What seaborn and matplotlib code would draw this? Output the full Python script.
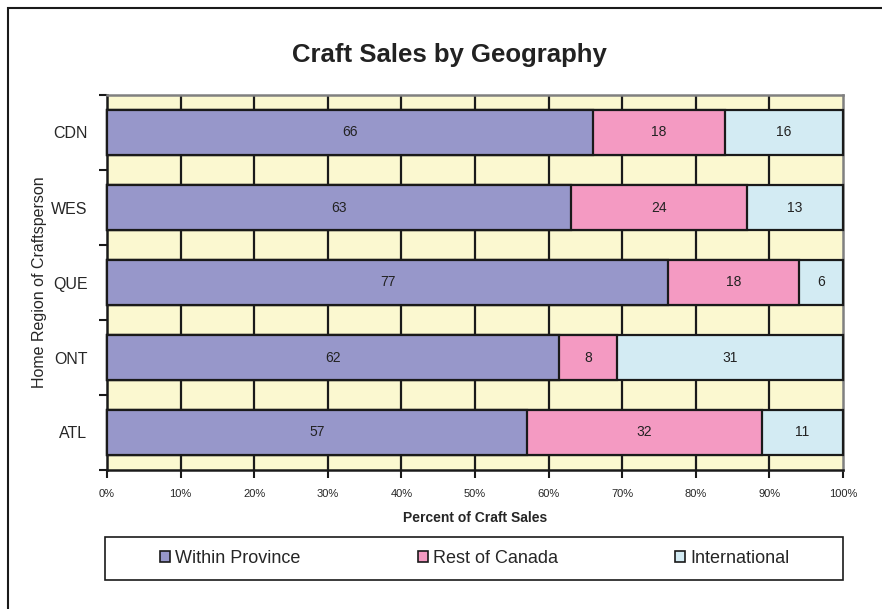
import numpy as np
import pandas as pd
import matplotlib.pyplot as plt
import seaborn as sns
from matplotlib.patches import Rectangle, Patch

regions = ['CDN', 'WES', 'QUE', 'ONT', 'ATL']
within_province = [66, 63, 77, 62, 57]
rest_of_canada = [18, 24, 18, 8, 32]
international = [16, 13, 6, 31, 11]

series_names = ['Within Province', 'Rest of Canada', 'International']
colors = ['#9797CA', '#F49AC2', '#D3EBF3']

raw = np.array([within_province, rest_of_canada, international], dtype=float)
pct = raw / raw.sum(axis=0) * 100
cum = np.cumsum(pct, axis=0)

sns.set_theme(style='white')
plt.rcParams['font.family'] = ['Liberation Sans', 'DejaVu Sans']

W, H = 882, 609
fig = plt.figure(figsize=(W / 100, H / 100), dpi=100)
ax = fig.add_axes([107 / W, 1 - 470 / H, 736 / W, 375 / H])
ax.set_facecolor('#FBF8D0')

# vertical grid behind bars
for x in range(10, 100, 10):
    ax.axvline(x, color='#1a1a1a', lw=1.6, zorder=0)

# draw stacked bars back to front (cumulative totals)
for i in range(2, -1, -1):
    df = pd.DataFrame({'region': regions, 'value': cum[i]})
    sns.barplot(data=df, y='region', x='value', orient='h', color=colors[i],
                saturation=1, width=0.61, edgecolor='#1a1a1a', linewidth=1.6,
                ax=ax)
for p in ax.patches:
    p.set_zorder(3)
    p.set_clip_on(False)

# value labels
for i in range(3):
    starts = cum[i] - pct[i]
    for j, r in enumerate(regions):
        ax.text(starts[j] + pct[i][j] / 2, j, f'{int(raw[i][j])}',
                ha='center', va='center', fontsize=10, color='#222222', zorder=4)

ax.set_xlim(0, 100)
ax.set_ylim(4.5, -0.5)
ax.set_xticks(np.arange(0, 101, 10))
ax.set_xticklabels([f'{v}%' for v in range(0, 101, 10)], fontsize=8)
ax.set_yticks(range(len(regions)))
ax.set_yticklabels(regions, fontsize=11.5)
ax.set_yticks(np.arange(-0.5, 5, 1), minor=True)
ax.tick_params(axis='y', which='major', length=0, pad=14)
ax.tick_params(axis='y', which='minor', length=6, width=1.5, color='#1a1a1a', left=True)
ax.tick_params(axis='x', which='major', length=6, width=1.5, color='#1a1a1a', bottom=True, pad=8)

for s in ['left', 'bottom']:
    ax.spines[s].set_color('#1a1a1a')
    ax.spines[s].set_linewidth(1.8)
for s in ['top', 'right']:
    ax.spines[s].set_color('#808080')
    ax.spines[s].set_linewidth(1.8)

ax.set_xlabel('Percent of Craft Sales', fontsize=10, fontweight='bold', labelpad=8)
ax.set_ylabel('Home Region of Craftsperson', fontsize=11.5, labelpad=3)

fig.text(449 / W, 1 - 55 / H, 'Craft Sales by Geography', ha='center', va='center',
         fontsize=18.5, fontweight='bold', color='#222222')

# legend: frame drawn separately, entries spread across it
handles = [Patch(facecolor=c, edgecolor='#1a1a1a', linewidth=1.2) for c in colors]
leg = fig.legend(handles, series_names, loc='center left', ncol=3, mode='expand',
                 bbox_to_anchor=(160 / W, 1 - 580 / H, 630 / W, 43 / H), frameon=False,
                 fontsize=13, handlelength=0.55, handleheight=0.55,
                 handletextpad=0.3, borderpad=0, borderaxespad=0)
fig.patches.append(Rectangle((105 / W, 1 - 580 / H), 738 / W, 43 / H,
                             transform=fig.transFigure, fill=False,
                             edgecolor='#1a1a1a', linewidth=1.2))

# outer frame
fig.patches.append(Rectangle((8 / W, -0.1), 1.2, 1.1 - 8 / H, transform=fig.transFigure,
                             fill=False, edgecolor='#1a1a1a', linewidth=1.5))

fig.savefig('out.png', dpi=100, facecolor='white')
